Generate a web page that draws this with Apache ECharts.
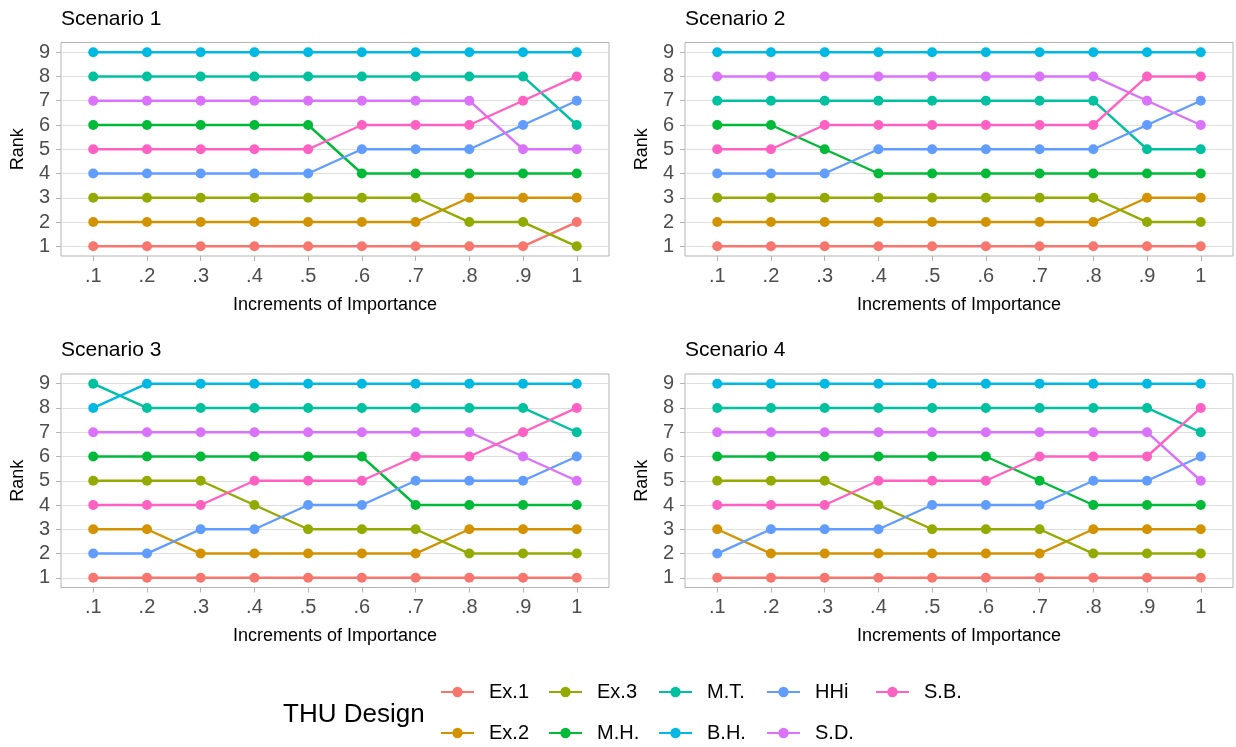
<!DOCTYPE html>
<html>
<head>
<meta charset="utf-8">
<script src="https://cdn.jsdelivr.net/npm/echarts@6/dist/echarts.min.js"></script>
<style>
  html, body { margin: 0; padding: 0; background: #ffffff; }
  #chart { width: 1236px; height: 747px; }
</style>
</head>
<body>
<div id="chart"></div>
<script>
// ---- Data ----
const xLabels = ['.1', '.2', '.3', '.4', '.5', '.6', '.7', '.8', '.9', '1'];
const yTicks = [1, 2, 3, 4, 5, 6, 7, 8, 9];
const designs = ['Ex.1', 'Ex.2', 'Ex.3', 'M.H.', 'M.T.', 'B.H.', 'HHi', 'S.D.', 'S.B.'];
const designColors = ['#F8766D', '#D39200', '#93AA00', '#00BA38', '#00C19F', '#00B9E3', '#619CFF', '#DB72FB', '#FF61C3'];
const scenarioTitles = ['Scenario 1', 'Scenario 2', 'Scenario 3', 'Scenario 4'];

// Scenario 1
const s1Ex1 = [1, 1, 1, 1, 1, 1, 1, 1, 1, 2];
const s1Ex2 = [2, 2, 2, 2, 2, 2, 2, 3, 3, 3];
const s1Ex3 = [3, 3, 3, 3, 3, 3, 3, 2, 2, 1];
const s1MH  = [6, 6, 6, 6, 6, 4, 4, 4, 4, 4];
const s1MT  = [8, 8, 8, 8, 8, 8, 8, 8, 8, 6];
const s1BH  = [9, 9, 9, 9, 9, 9, 9, 9, 9, 9];
const s1HHi = [4, 4, 4, 4, 4, 5, 5, 5, 6, 7];
const s1SD  = [7, 7, 7, 7, 7, 7, 7, 7, 5, 5];
const s1SB  = [5, 5, 5, 5, 5, 6, 6, 6, 7, 8];

// Scenario 2
const s2Ex1 = [1, 1, 1, 1, 1, 1, 1, 1, 1, 1];
const s2Ex2 = [2, 2, 2, 2, 2, 2, 2, 2, 3, 3];
const s2Ex3 = [3, 3, 3, 3, 3, 3, 3, 3, 2, 2];
const s2MH  = [6, 6, 5, 4, 4, 4, 4, 4, 4, 4];
const s2MT  = [7, 7, 7, 7, 7, 7, 7, 7, 5, 5];
const s2BH  = [9, 9, 9, 9, 9, 9, 9, 9, 9, 9];
const s2HHi = [4, 4, 4, 5, 5, 5, 5, 5, 6, 7];
const s2SD  = [8, 8, 8, 8, 8, 8, 8, 8, 7, 6];
const s2SB  = [5, 5, 6, 6, 6, 6, 6, 6, 8, 8];

// Scenario 3
const s3Ex1 = [1, 1, 1, 1, 1, 1, 1, 1, 1, 1];
const s3Ex2 = [3, 3, 2, 2, 2, 2, 2, 3, 3, 3];
const s3Ex3 = [5, 5, 5, 4, 3, 3, 3, 2, 2, 2];
const s3MH  = [6, 6, 6, 6, 6, 6, 4, 4, 4, 4];
const s3MT  = [9, 8, 8, 8, 8, 8, 8, 8, 8, 7];
const s3BH  = [8, 9, 9, 9, 9, 9, 9, 9, 9, 9];
const s3HHi = [2, 2, 3, 3, 4, 4, 5, 5, 5, 6];
const s3SD  = [7, 7, 7, 7, 7, 7, 7, 7, 6, 5];
const s3SB  = [4, 4, 4, 5, 5, 5, 6, 6, 7, 8];

// Scenario 4
const s4Ex1 = [1, 1, 1, 1, 1, 1, 1, 1, 1, 1];
const s4Ex2 = [3, 2, 2, 2, 2, 2, 2, 3, 3, 3];
const s4Ex3 = [5, 5, 5, 4, 3, 3, 3, 2, 2, 2];
const s4MH  = [6, 6, 6, 6, 6, 6, 5, 4, 4, 4];
const s4MT  = [8, 8, 8, 8, 8, 8, 8, 8, 8, 7];
const s4BH  = [9, 9, 9, 9, 9, 9, 9, 9, 9, 9];
const s4HHi = [2, 3, 3, 3, 4, 4, 4, 5, 5, 6];
const s4SD  = [7, 7, 7, 7, 7, 7, 7, 7, 7, 5];
const s4SB  = [4, 4, 4, 5, 5, 5, 6, 6, 6, 8];

const scenarios = [
  [s1Ex1, s1Ex2, s1Ex3, s1MH, s1MT, s1BH, s1HHi, s1SD, s1SB],
  [s2Ex1, s2Ex2, s2Ex3, s2MH, s2MT, s2BH, s2HHi, s2SD, s2SB],
  [s3Ex1, s3Ex2, s3Ex3, s3MH, s3MT, s3BH, s3HHi, s3SD, s3SB],
  [s4Ex1, s4Ex2, s4Ex3, s4MH, s4MT, s4BH, s4HHi, s4SD, s4SB]
];

// ---- Layout ----
const FONT = "'Liberation Sans', Arial, sans-serif";
const panels = [
  { left: 61, top: 42.5 },
  { left: 685, top: 42.5 },
  { left: 61, top: 374 },
  { left: 685, top: 374 }
];
const PW = 548, PH = 213.5;
const xPositions = xLabels.map((_, i) => i + 1);

const grids = [], xAxes = [], yAxes = [], series = [], titles = [];

panels.forEach((p, k) => {
  grids.push({
    left: p.left, top: p.top, width: PW, height: PH,
    show: true, borderColor: '#B3B3B3', borderWidth: 1, backgroundColor: 'transparent',
    containLabel: false
  });
  xAxes.push({
    type: 'value', gridIndex: k, min: 0.4, max: xLabels.length + 0.6,
    name: 'Increments of Importance', nameLocation: 'middle', nameGap: 40,
    nameTextStyle: { fontFamily: FONT, fontSize: 18, color: '#000000' },
    axisLine: { show: false },
    axisTick: { show: true, length: 5, customValues: xPositions, lineStyle: { color: '#B3B3B3', width: 1 } },
    axisLabel: {
      show: true, customValues: xPositions, margin: 10,
      fontFamily: FONT, fontSize: 20, color: '#4D4D4D',
      formatter: v => xLabels[Math.round(v) - 1]
    },
    splitLine: { show: false }
  });
  yAxes.push({
    type: 'value', gridIndex: k, min: 0.6, max: 9.4,
    name: 'Rank', nameLocation: 'middle', nameGap: 34,
    nameTextStyle: { fontFamily: FONT, fontSize: 18, color: '#000000' },
    axisLine: { show: false },
    axisTick: { show: true, length: 5, customValues: yTicks, lineStyle: { color: '#B3B3B3', width: 1 } },
    axisLabel: {
      show: true, customValues: yTicks, margin: 11,
      fontFamily: FONT, fontSize: 20, color: '#4D4D4D',
      formatter: v => String(Math.round(v))
    },
    splitLine: { show: true, lineStyle: { color: '#DEDEDE', width: 1 } }
  });
  titles.push({
    text: scenarioTitles[k], left: p.left, top: k < 2 ? 9 : 340, padding: 0,
    textStyle: { fontFamily: FONT, fontSize: 21, fontWeight: 'normal', color: '#000000' }
  });
  designs.forEach((d, j) => {
    series.push({
      type: 'line', name: d, xAxisIndex: k, yAxisIndex: k,
      data: scenarios[k][j].map((v, i) => [xPositions[i], v]),
      symbol: 'circle', symbolSize: 10, showSymbol: true,
      lineStyle: { width: 2.4, color: designColors[j] },
      itemStyle: { color: designColors[j] },
      emphasis: { disabled: true },
      z: 2 + j * 0.01,
      animation: false
    });
  });
});

titles.push({
  text: 'THU Design', left: 283, top: 702, padding: 0,
  textStyle: { fontFamily: FONT, fontSize: 26, fontWeight: 'normal', color: '#000000' }
});

// legend: 5 columns x 2 rows
const legCols = [440, 548, 658, 766, 875];
const legRows = [692, 733];
const legends = designs.map((d, j) => ({
  data: [d],
  left: legCols[Math.floor(j / 2)],
  top: legRows[j % 2] - 10,
  padding: 0,
  itemWidth: 33, itemHeight: 13,
  textStyle: { fontFamily: FONT, fontSize: 20, color: '#000000', padding: [0, 0, 0, 10] }
}));

const chart = echarts.init(document.getElementById('chart'), null, { renderer: 'canvas' });
chart.setOption({
  animation: false,
  backgroundColor: '#ffffff',
  color: designColors,
  title: titles,
  legend: legends,
  grid: grids,
  xAxis: xAxes,
  yAxis: yAxes,
  series: series
});
</script>
</body>
</html>
